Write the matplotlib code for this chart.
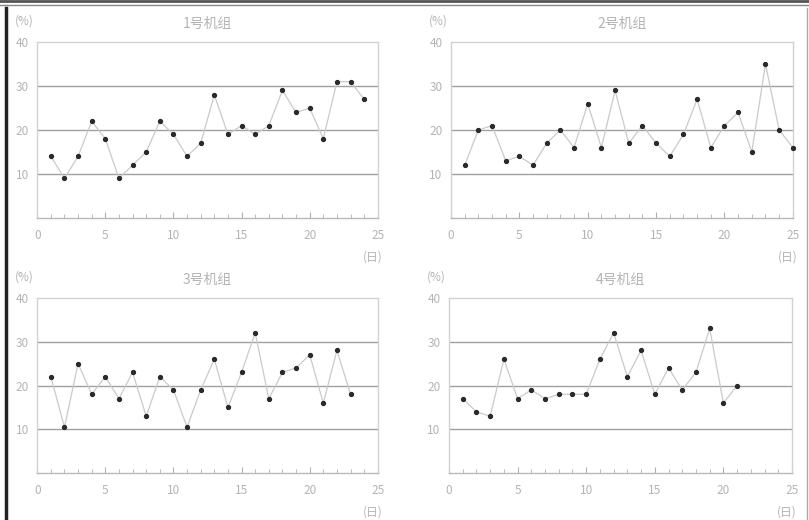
import matplotlib
matplotlib.use("Agg")
import matplotlib.pyplot as plt
from matplotlib.lines import Line2D
from matplotlib.ticker import MultipleLocator

plt.rcParams['font.family'] = ['Noto Sans CJK SC', 'DejaVu Sans']

titles = ["1号机组", "2号机组", "3号机组", "4号机组"]
y_unit = "(%)"
x_unit = "(日)"

values_1 = [14, 9, 14, 22, 18, 9, 12, 15, 22, 19, 14, 17, 28, 19, 21, 19, 21, 29, 24, 25, 18, 31, 31, 27]
values_2 = [12, 20, 21, 13, 14, 12, 17, 20, 16, 26, 16, 29, 17, 21, 17, 14, 19, 27, 16, 21, 24, 15, 35, 20, 16]
values_3 = [22, 10.5, 25, 18, 22, 17, 23, 13, 22, 19, 10.5, 19, 26, 15, 23, 32, 17, 23, 24, 27, 16, 28, 18]
values_4 = [17, 14, 13, 26, 17, 19, 17, 18, 18, 18, 26, 32, 22, 28, 18, 24, 19, 23, 33, 16, 20]
series = [values_1, values_2, values_3, values_4]

y_ticks = [10, 20, 30, 40]
x_ticks = [0, 5, 10, 15, 20, 25]

fig = plt.figure(figsize=(8.09, 5.2), dpi=100)
fig.patch.set_facecolor("white")

positions = [
    [0.046, 0.581, 0.421, 0.338],
    [0.5575, 0.581, 0.4225, 0.338],
    [0.046, 0.0898, 0.421, 0.3377],
    [0.555, 0.0898, 0.424, 0.3377],
]

txt = "#b4b4b4"
for pos, title, vals in zip(positions, titles, series):
    ax = fig.add_axes(pos)
    xs = list(range(1, len(vals) + 1))
    ax.plot(xs, vals, color="#cacaca", lw=0.9, zorder=3, clip_on=False)
    ax.plot(xs, vals, ls="none", marker="o", ms=2.8, color="#2a2a2a", zorder=4, clip_on=False)
    ax.set_xlim(0, 25)
    ax.set_ylim(0, 40)
    ax.set_yticks(y_ticks)
    ax.set_xticks(x_ticks)
    ax.xaxis.set_minor_locator(MultipleLocator(1))
    for y in [10, 20, 30]:
        ax.axhline(y, color="#a0a0a0", lw=1.0, zorder=1)
    for s in ax.spines.values():
        s.set_color("#d2d2d2")
        s.set_linewidth(1.0)
    ax.spines["bottom"].set_color("#b8b8b8")
    ax.tick_params(axis="both", which="both", direction="in", colors="#b0b0b0",
                   labelcolor=txt, labelsize=8.5)
    ax.tick_params(axis="x", which="minor", length=3)
    ax.tick_params(axis="x", which="major", length=4, pad=8)
    ax.tick_params(axis="y", which="major", length=0, pad=6)
    ax.set_title(title, color="#b4b4b4", fontsize=10, pad=10)
    ax.text(-0.01, 1.12, y_unit, transform=ax.transAxes, ha="right", va="center",
            color=txt, fontsize=8.5)
    ax.text(0.985, -0.22, x_unit, transform=ax.transAxes, ha="center", va="center",
            color=txt, fontsize=8.5)

# figure frame (scan border)
fig.add_artist(Line2D([0, 1], [0.998, 0.998], transform=fig.transFigure, color="#555555", lw=2.0))
fig.add_artist(Line2D([0, 1], [0.990, 0.990], transform=fig.transFigure, color="#888888", lw=1.0))
fig.add_artist(Line2D([0.008, 0.008], [0, 0.985], transform=fig.transFigure, color="#222222", lw=2.5))
fig.add_artist(Line2D([0.997, 0.997], [0, 0.985], transform=fig.transFigure, color="#aaaaaa", lw=1.0))

fig.savefig("out.png", dpi=100, facecolor="white")
